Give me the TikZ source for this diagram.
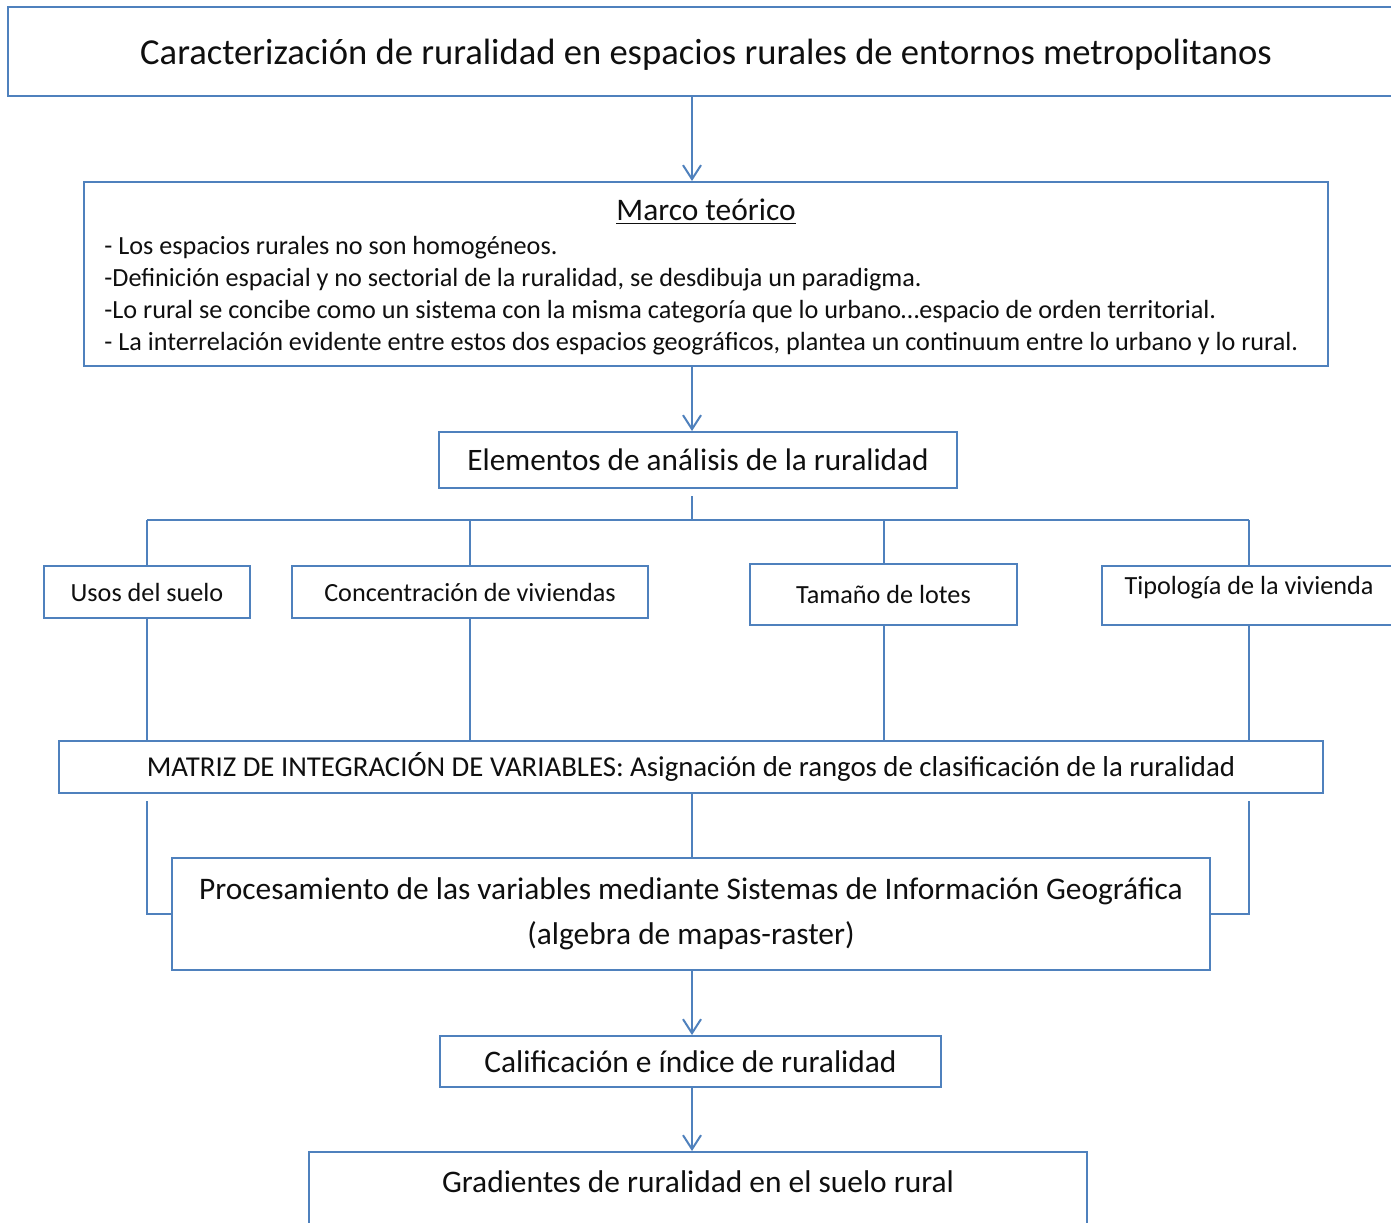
\documentclass[tikz,border=0pt]{standalone}
\usepackage{fontspec}
\setmainfont{Carlito}
\usetikzlibrary{arrows.meta}
\definecolor{boxblue}{RGB}{79,129,189}
\definecolor{ink}{RGB}{15,15,15}
\def\spinex{692}

\begin{document}
\begin{tikzpicture}[x=0.5pt, y=-0.5pt]
  \tikzstyle{box}=[draw=boxblue, line width=1pt, fill=white, inner sep=0pt, text=ink]
  \tikzstyle{link}=[draw=boxblue, line width=1pt]
  \tikzstyle{arr}=[link, -{Straight Barb[length=7pt, width=9pt]}]
  \tikzstyle{label}=[text=ink, inner sep=0pt]

  \useasboundingbox (0,0) rectangle (1391,1222);
  \fill[white] (0,0) rectangle (1391,1222);
  \clip (0,0) rectangle (1391,1222);

  \coordinate (spine) at (\spinex,0);
  \coordinate (bus) at (0,520);

  \node[box, minimum width=698pt, minimum height=44.5pt, text depth=0pt, font=\fontsize{18.3}{22}\selectfont] (title) at (706,51.5)
    {Caracterización de ruralidad en espacios rurales de entornos metropolitanos};

  \node[box, minimum width=622pt, minimum height=92pt] (marco) at (706,274) {};
  \node[label, font=\fontsize{15.7}{18}\selectfont] (marcotit) at (706,212) {\underline{Marco teórico}};
  \node[label, anchor=north west, align=left, font=\fontsize{13.1}{16}\selectfont] (marcotxt) at (104,236)
    {- Los espacios rurales no son homogéneos.\\
     -Definición espacial y no sectorial de la ruralidad, se desdibuja un paradigma.\\
     -Lo rural se concibe como un sistema con la misma categoría que lo urbano…espacio de orden territorial.\\
     - La interrelación evidente entre estos dos espacios geográficos, plantea un continuum entre lo urbano y lo rural.};

  \node[box, minimum width=259pt, minimum height=28pt, font=\fontsize{15.6}{18}\selectfont] (elem) at (698,460)
    {Elementos de análisis de la ruralidad};

  \foreach \name/\x/\y/\w/\h/\txt in {usos/147/592/103/26/Usos del suelo,
                                     conc/470/592/178/26/Concentración de viviendas,
                                     tam/883.5/594.5/133.5/30.5/Tamaño de lotes}
    \node[box, minimum width=\w pt, minimum height=\h pt, font=\fontsize{13.1}{15}\selectfont] (\name) at (\x,\y) {\txt};

  \node[box, minimum width=147pt, minimum height=29.5pt] (tipo) at (1249,595.5) {};
  \node[label, font=\fontsize{13.1}{15}\selectfont] (tipotxt) at (1249,588) {Tipología de la vivienda};

  \node[box, minimum width=632pt, minimum height=26pt, font=\fontsize{14.4}{16}\selectfont] (matriz) at (691,767)
    {MATRIZ DE INTEGRACIÓN DE VARIABLES: Asignación de rangos de clasificación de la ruralidad};

  \node[box, minimum width=519pt, minimum height=56pt, align=center, font=\fontsize{15.7}{22.5}\selectfont] (proc) at (691,914)
    {Procesamiento de las variables mediante Sistemas de Información Geográfica\\(algebra de mapas-raster)};

  \node[box, minimum width=250.5pt, minimum height=25.5pt, font=\fontsize{15.7}{18}\selectfont] (calif) at (690.5,1061.5)
    {Calificación e índice de ruralidad};

  \node[box, minimum width=389pt, minimum height=50pt] (grad) at (698,1202) {};
  \node[label, font=\fontsize{15.7}{18}\selectfont] (gradtxt) at (698,1182) {Gradientes de ruralidad en el suelo rural};

  \draw[arr] (title.south -| spine) -- (marco.north -| spine);
  \draw[arr] (marco.south -| spine) -- (elem.north -| spine);
  \draw[link, shorten <=3.5pt] (elem.south -| spine) -- (spine |- bus);
  \draw[link] (usos.north |- bus) -- (tipo.north |- bus);

  \foreach \name in {usos,conc,tam,tipo}
    \draw[link] (\name.north) -- (\name.north |- bus);

  \foreach \name in {usos,conc,tam,tipo}
    \draw[link] (\name.south) -- (\name.south |- matriz.north);

  \draw[link] (matriz.south -| spine) -- (proc.north -| spine);
  \draw[link, shorten <=3.5pt] (usos.south |- matriz.south) |- (proc.west);
  \draw[link, shorten <=3.5pt] (tipo.south |- matriz.south) |- (proc.east);

  \draw[arr] (proc.south -| spine) -- (calif.north -| spine);
  \draw[arr] (calif.south -| spine) -- (grad.north -| spine);
\end{tikzpicture}
\end{document}
